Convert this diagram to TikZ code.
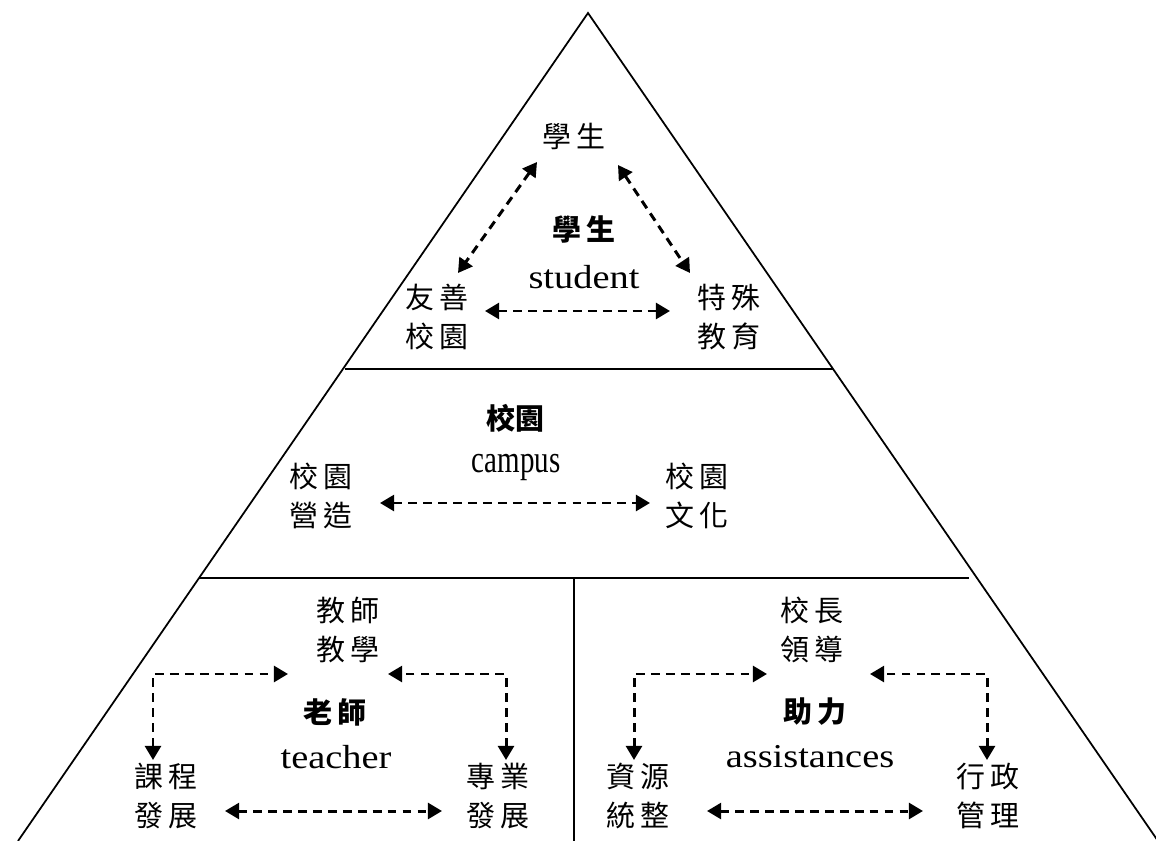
\documentclass[tikz,border=0pt]{standalone}
\usepackage{fontspec}
\setmainfont{Liberation Serif}
\newfontfamily\cjk{Noto Sans CJK TC}
\newfontfamily\latin[FakeStretch=1.15]{Liberation Serif}
\newfontfamily\narrow[FakeStretch=0.75]{Liberation Serif}
\usetikzlibrary{arrows.meta}
\newcommand{\pair}[2]{#1\hspace{0.2em}#2}
\tikzset{
	lbl/.style={font=\cjk\fontsize{16.5}{22}\selectfont, align=center, inner sep=0pt},
	hub/.style={font=\cjk\bfseries\fontsize{16.5}{22}\selectfont, inner sep=0pt},
	eng/.style={font=\latin\fontsize{19}{22}\selectfont, inner sep=0pt},
	link/.style={line width=1.7pt, dash pattern=on 5pt off 3.5pt, {Triangle[length=8pt,width=9pt]}-{Triangle[length=8pt,width=9pt]}}
}
\begin{document}
\begin{tikzpicture}[x=0.02cm, y=-0.02cm]
		\useasboundingbox (0,0) rectangle (1156,841);
		\begin{scope}
			\clip (0,0) rectangle (1156,841);
			\draw[line width=1pt] (18,841) -- (588,13) -- (1158,841);
		\end{scope}
		\draw[line width=1.2pt] (345,369) -- (833,369);
		\draw[line width=1.2pt] (199,578) -- (969,578);
		\draw[line width=1.2pt] (574,578) -- (574,841);
		\node[lbl] (top) at (574,136) {\pair{學}{生}};
		\node[hub] (shub) at (584,229) {\pair{學}{生}};
		\node[eng] (seng) at (584,277) {student};
		\node[lbl] (fs) at (437,317) {\pair{友}{善}\\\pair{校}{園}};
		\node[lbl] (tj) at (729,317) {\pair{特}{殊}\\\pair{教}{育}};
		\node[hub] (chub) at (515,418) {校園};
		\node[inner sep=0pt, font=\narrow\fontsize{22}{22}\selectfont] (ceng) at (516,468) {campus};
		\node[lbl] (yz) at (321,496) {\pair{校}{園}\\\pair{營}{造}};
		\node[lbl] (wh) at (697,496) {\pair{校}{園}\\\pair{文}{化}};
		\node[lbl] (jx) at (348,630) {\pair{教}{師}\\\pair{教}{學}};
		\node[hub] (thub) at (335,712) {\pair{老}{師}};
		\node[eng] (teng) at (336,757) {teacher};
		\node[lbl] (kc) at (166,796) {\pair{課}{程}\\\pair{發}{展}};
		\node[lbl] (zy) at (498,796) {\pair{專}{業}\\\pair{發}{展}};
		\node[lbl] (ld) at (812,630) {\pair{校}{長}\\\pair{領}{導}};
		\node[hub] (ahub) at (815,712) {\pair{助}{力}};
		\node[eng] (aeng) at (810,757) {assistances};
		\node[lbl] (zz) at (638,796) {\pair{資}{源}\\\pair{統}{整}};
		\node[lbl] (xz) at (988,796) {\pair{行}{政}\\\pair{管}{理}};
		\draw[link] ([shift={(-37,26)}]top.center) -- ([shift={(21,-44)}]fs.center);
		\draw[link] ([shift={(44,29)}]top.center) -- ([shift={(-39,-44)}]tj.center);
		\draw[link] ([shift={(48,-6)}]fs.center) -- ([shift={(-59,-6)}]tj.center);
		\draw[link] ([shift={(59,7)}]yz.center) -- ([shift={(-47,7)}]wh.center);
		\draw[link] ([shift={(-13,-36)}]kc.center) |- ([shift={(-60,44)}]jx.center);
		\draw[link] ([shift={(8,-36)}]zy.center) |- ([shift={(40,44)}]jx.center);
		\draw[link] ([shift={(59,15)}]kc.center) -- ([shift={(-56,15)}]zy.center);
		\draw[link] ([shift={(-4,-36)}]zz.center) |- ([shift={(-45,44)}]ld.center);
		\draw[link] ([shift={(-1,-36)}]xz.center) |- ([shift={(58,44)}]ld.center);
		\draw[link] ([shift={(69,15)}]zz.center) -- ([shift={(-65,15)}]xz.center);
	\end{tikzpicture}
\end{document}
